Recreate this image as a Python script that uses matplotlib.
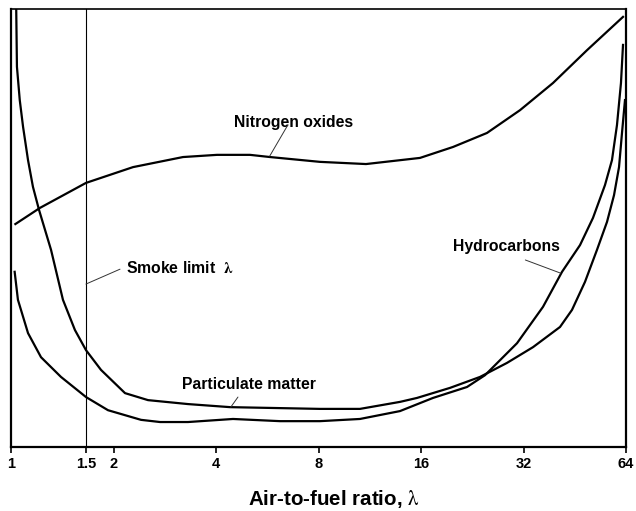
import matplotlib
matplotlib.use("Agg")
import matplotlib.pyplot as plt

plt.rcParams["font.family"] = ["Liberation Sans", "DejaVu Sans"]
plt.rcParams["mathtext.fontset"] = "stix"

# x values are air-to-fuel ratio, y values are relative emission (0-100, no scale given)
nox_x = [1.030, 1.217, 1.661, 2.282, 3.200, 4.027, 5.034, 5.764, 8.08, 11.03, 15.89, 19.87, 25.00, 31.25,
         39.06, 49.17, 62.72]
nox_y = [50.9, 54.6, 60.3, 63.9, 66.2, 66.7, 66.7, 66.2, 65.1, 64.6, 66.0, 68.5, 71.7, 76.9,
         83.1, 90.6, 98.2]

hc_x = [1.025, 1.048, 1.122, 1.225, 1.402, 1.661, 1.927, 2.409, 2.740, 3.310, 4.488, 6.166, 8.08, 10.59,
        13.88, 17.35, 21.84, 24.67, 30.63, 36.51, 41.53, 46.90, 51.19, 55.52, 58.21, 60.21, 61.86, 62.72]
hc_y = [40.0, 33.6, 26.0, 20.5, 16.0, 11.4, 8.4, 6.2, 5.7, 5.7, 6.4, 5.9, 5.9, 6.4,
        8.2, 11.2, 13.7, 16.4, 23.7, 32.0, 40.0, 46.1, 52.3, 59.8, 65.5, 73.5, 83.1, 91.8]

pm_x = [1.036, 1.041, 1.061, 1.085, 1.122, 1.160, 1.209, 1.311, 1.421, 1.541, 1.661, 1.838, 2.162, 2.526,
        3.310, 4.398, 8.08, 10.59, 13.88, 15.57, 19.47, 23.85, 28.62, 34.13, 40.96, 44.42, 48.50, 52.59,
        56.29, 59.02, 61.05, 62.29, 63.56]
pm_y = [99.8, 86.8, 79.2, 73.1, 65.5, 59.4, 54.1, 45.0, 33.6, 26.7, 22.1, 17.6, 12.3, 10.7,
        9.8, 9.1, 8.7, 8.7, 10.3, 11.2, 13.5, 16.0, 19.2, 22.8, 27.4, 31.3, 37.7, 45.0,
        51.4, 57.5, 63.9, 71.7, 79.2]

# smoke limit line, drawn where the original puts its "1.5" tick
smoke_limit = 1.66

tick_pos = [1, smoke_limit, 2, 4, 8, 16, 32, 64]
tick_labels = ["1", "1.5", "2", "4", "8", "16", "32", "64"]

fig = plt.figure(figsize=(6.36, 5.11), dpi=100)
ax = fig.add_axes([11 / 636, 1 - 447 / 511, 615 / 636, 438 / 511])

for xs, ys in [(nox_x, nox_y), (hc_x, hc_y), (pm_x, pm_y)]:
    ax.plot(xs, ys, color="black", lw=1.6, solid_joinstyle="round")
ax.axvline(smoke_limit, color="black", lw=0.8)

ax.set_xscale("log", base=2)
ax.set_xlim(1, 64)
ax.set_ylim(0, 100)
ax.set_xticks(tick_pos)
ax.set_xticklabels(tick_labels, fontsize=10.5, fontweight="bold")
ax.minorticks_off()
ax.set_yticks([])
ax.tick_params(axis="x", direction="out", length=4, width=1.2, pad=3)

for side in ["left", "right", "bottom"]:
    ax.spines[side].set_linewidth(1.6)
ax.spines["top"].set_linewidth(1.2)

ax.set_xlabel(r"Air-to-fuel ratio, $\mathrm{\lambda}$", fontsize=14.8, fontweight="bold")
ax.xaxis.set_label_coords(0.525, -0.094)

# curve labels with leader lines
lead = dict(arrowstyle="-", color="#333333", lw=0.7, shrinkA=0, shrinkB=0)
ax.text(6.77, 74.2, "Nitrogen oxides", fontsize=11.3, fontweight="bold", ha="center", va="center")
ax.annotate("", xy=(5.75, 66.4), xytext=(6.50, 73.5), arrowprops=lead)

ax.text(2.175, 40.9, r"Smoke limit  $\mathbf{\lambda}$", fontsize=11.3, fontweight="bold", ha="left", va="center")
ax.annotate("", xy=(1.66, 37.2), xytext=(2.09, 40.6), arrowprops=lead)

ax.text(3.175, 14.2, "Particulate matter", fontsize=11.3, fontweight="bold", ha="left", va="center")
ax.annotate("", xy=(4.42, 9.1), xytext=(4.64, 11.4), arrowprops=lead)

ax.text(19.8, 45.7, "Hydrocarbons", fontsize=11.3, fontweight="bold", ha="left", va="center")
ax.annotate("", xy=(41.1, 39.7), xytext=(32.4, 42.7), arrowprops=lead)

fig.savefig("out.png", dpi=100)
